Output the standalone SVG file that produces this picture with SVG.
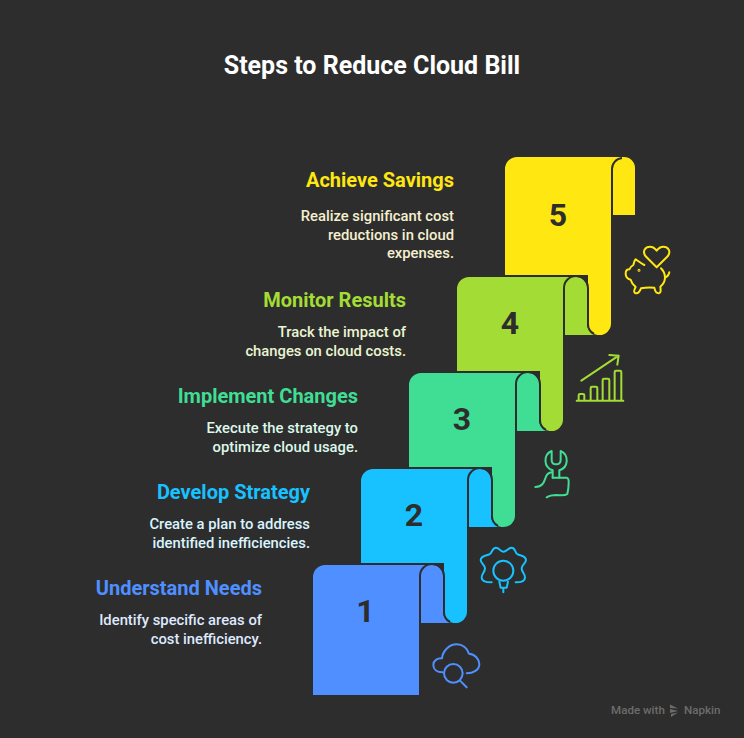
<svg xmlns="http://www.w3.org/2000/svg" width="744" height="738" viewBox="0 0 744 738">
<style>
text{font-family:Roboto,"Liberation Sans",sans-serif}
.t{font-size:25px;font-weight:700;fill:#fff;text-anchor:middle}
.h{font-size:20px;font-weight:700;text-anchor:end}
.b{font-size:14.800px;font-weight:500;text-anchor:end}
.n{font-size:32px;font-weight:700;fill:#2d2d2d;text-anchor:middle}
.e{fill:none;stroke:#2d2d2d;stroke-width:2}
.i{fill:none;stroke-width:6;stroke-linecap:round;stroke-linejoin:round}
.f{font-size:11.600px;font-weight:500;fill:#6c6c6c}
</style>
<rect width="744" height="738" fill="#2d2d2d"/>
<text class="t" x="372" y="74">Steps to Reduce Cloud Bill</text>
<g id="connectors"></g>
<g id="node-5">
<path fill="#ffe711" d="M505 275V169A12 12 0 0 1 517 157H624A11 11 0 0 1 635 168V215H611V323.500A11.500 11.500 0 0 1 588 323.500V275Z"/>
<path class="e" d="M612 215V169A11 11 0 0 1 622 158"/>
<text class="n" x="558" y="226">5</text>
<text class="h" x="454" y="187" fill="#ffe711">Achieve Savings</text>
<text class="b" x="454" y="221" fill="#f5f0cf">Realize significant cost</text>
<text class="b" x="454" y="240" fill="#f5f0cf">reductions in cloud</text>
<text class="b" x="454" y="258" fill="#f5f0cf">expenses.</text>
<g class="i" stroke="#ffe711" transform="translate(615 235) scale(.3333)">
<path d="M125 97L92 64C80 48 92 35 105 35C114 35 120 40 125 47C130 40 136 35 145 35C158 35 170 48 158 64Z"/>
<path d="M88 90C80 86 72 80 62 73C57 78 57 85 55 90C48 94 45 98 43 103C36 103 32 106 32 116C32 127 38 132 47 134C49 142 55 150 62 156C58 164 54 170 60 174C68 177 74 170 78 160C92 157 105 157 118 158C120 168 124 176 132 175C139 174 137 162 136 155C145 147 150 138 150 128C150 116 146 108 138 100"/>
<path d="M150 128C157 126 161 120 163 112"/>
<circle cx="72" cy="106" r="1.500"/>
</g>
</g>
<g id="node-4">
<path fill="#a4dc36" d="M457 371V289A12 12 0 0 1 469 277H576A11 11 0 0 1 587 288V323.500A11.500 11.500 0 0 0 595 335H563V419.500A11.500 11.500 0 0 1 540 419.500V371Z"/>
<path class="e" d="M564 335V288A12 12 0 0 1 576 276A12 12 0 0 1 588 288V323.500A11.500 11.500 0 0 0 594 334"/>
<text class="n" x="510" y="334">4</text>
<text class="h" x="406" y="307" fill="#a4dc36">Monitor Results</text>
<text class="b" x="406" y="337" fill="#eaf5d2">Track the impact of</text>
<text class="b" x="406" y="356" fill="#eaf5d2">changes on cloud costs.</text>
<g class="i" stroke="#a4dc36" transform="translate(520 340) scale(.3333)">
<path d="M170 182H310"/>
<path d="M176 180V166Q176 162 180 162H189Q193 162 193 166V180"/>
<path d="M212 180V144Q212 140 216 140H228Q232 140 232 144V180"/>
<path d="M248 180V120Q248 116 252 116H264Q268 116 268 120V180"/>
<path d="M284 180V96Q284 92 288 92H300Q304 92 304 96V180"/>
<path d="M184 122L296 47M268 45L296 47L292 74"/>
</g>
</g>
<g id="node-3">
<path fill="#40de94" d="M409 467V385A12 12 0 0 1 421 373H528A11 11 0 0 1 539 384V419.500A11.500 11.500 0 0 0 547 431H515V515.500A11.500 11.500 0 0 1 492 515.500V467Z"/>
<path class="e" d="M516 431V384A12 12 0 0 1 528 372A12 12 0 0 1 540 384V419.500A11.500 11.500 0 0 0 546 430"/>
<text class="n" x="462" y="430">3</text>
<text class="h" x="358" y="403" fill="#40de94">Implement Changes</text>
<text class="b" x="358" y="433" fill="#dcf8ea">Execute the strategy to</text>
<text class="b" x="358" y="452" fill="#dcf8ea">optimize cloud usage.</text>
<g class="i" stroke="#40de94" transform="translate(520 340) scale(.3333)">
<path d="M95 333V360Q95 373 108 373Q122 373 122 360V333A31 31 0 0 1 118 391V413M95 333A31 31 0 0 0 98 391V413"/>
<path d="M46 441C70 440 72 425 78 410C82 400 88 398 95 397"/>
<path d="M98 413H140Q147 415 146 430Q146 445 142 462Q135 468 110 465Q90 465 80 472"/>
</g>
</g>
<g id="node-2">
<path fill="#18c1ff" d="M361 563V481A12 12 0 0 1 373 469H480A11 11 0 0 1 491 480V515.500A11.500 11.500 0 0 0 499 527H467V611.500A11.500 11.500 0 0 1 444 611.500V563Z"/>
<path class="e" d="M468 527V480A12 12 0 0 1 480 468A12 12 0 0 1 492 480V515.500A11.500 11.500 0 0 0 498 526"/>
<text class="n" x="414" y="526">2</text>
<text class="h" x="310" y="499" fill="#18c1ff">Develop Strategy</text>
<text class="b" x="310" y="529" fill="#d9f4ff">Create a plan to address</text>
<text class="b" x="310" y="548" fill="#d9f4ff">identified inefficiencies.</text>
<g class="i" stroke="#18c1ff" transform="translate(470 535) scale(.3333)">
<circle cx="100" cy="107" r="30"/>
<path d="M88 140L92 158H110L114 140M100 158V172"/>
<path d="M65 142C50 142 35 140 35 128C35 115 45 112 45 100C45 90 32 85 32 75C32 62 50 62 58 58C68 54 65 38 78 38C88 38 90 50 100 50C110 50 115 38 125 38C138 38 133 54 143 58C152 62 168 62 168 75C168 85 155 90 155 100C155 112 165 115 165 128C165 140 150 142 137 142"/>
</g>
</g>
<g id="node-1">
<path fill="#4f8fff" d="M313 695V577A12 12 0 0 1 325 565H432A11 11 0 0 1 443 576V611.500A11.500 11.500 0 0 0 451 623H419V695Z"/>
<path class="e" d="M420 623V576A12 12 0 0 1 432 564A12 12 0 0 1 444 576V611.500A11.500 11.500 0 0 0 450 622"/>
<text class="n" x="365.500" y="622">1</text>
<text class="h" x="262" y="595" fill="#4f8fff">Understand Needs</text>
<text class="b" x="262" y="625" fill="#dfe9ff">Identify specific areas of</text>
<text class="b" x="262" y="644" fill="#dfe9ff">cost inefficiency.</text>
<g class="i" stroke="#4f8fff" transform="translate(420 630) scale(.3333)">
<path d="M68 127C50 127 40 118 40 105C40 92 52 84 66 85C68 62 88 43 110 43C128 43 143 55 147 71C165 72 178 88 178 103C178 120 160 130 140 130"/>
<circle cx="100" cy="130" r="28"/>
<path d="M120 152L140 172"/>
</g>
</g>
<g id="footer">
<text class="f" x="611" y="714">Made with</text>
<path fill="#6c6c6c" d="M670 704.500L678 708.500L670 708ZM670 709L678 711L670 713ZM671 714L678 712.500L671 717Z"/>
<text class="f" x="684" y="714">Napkin</text>
</g>
</svg>
